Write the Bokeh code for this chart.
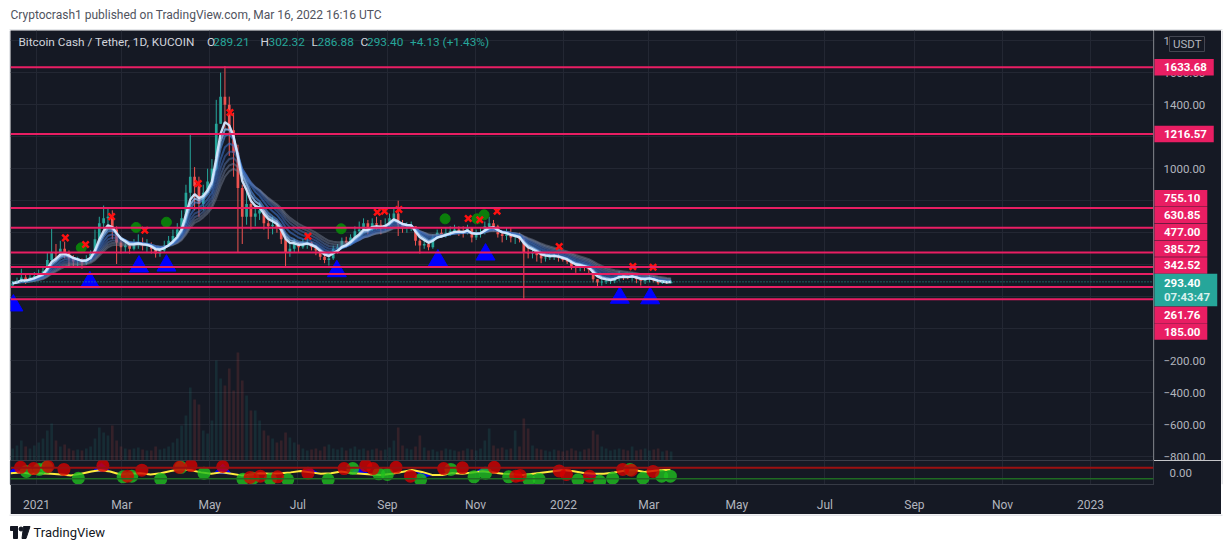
import numpy as np
import pandas as pd
from bokeh.plotting import figure
from bokeh.models import (Range1d, FixedTicker, MonthsTicker, CustomJSTickFormatter, Span, Label,
                          ColumnDataSource)
from bokeh.layouts import column, row
from bokeh.core.properties import value
from bokeh.embed import file_html
from bokeh.resources import INLINE

# ---------------- data ----------------
start_date = "2020-12-14"
period_days = 3
first_open = 270.0

closes = [285, 300, 320, 300, 320, 330, 345, 360, 430, 480,
          470, 500, 480, 440, 420, 420, 410, 430, 470, 560,
          660, 690, 700, 620, 540, 510, 520, 500, 530, 540,
          520, 520, 500, 470, 490, 520, 550, 580, 620, 690,
          850, 950, 890, 780, 850, 920, 1000, 1280, 1450, 1400,
          1240, 1100, 880, 700, 780, 700, 720, 740, 660, 640,
          650, 630, 560, 480, 500, 530, 510, 530, 540, 510,
          490, 450, 430, 440, 500, 510, 550, 540, 570, 610,
          620, 660, 620, 660, 650, 630, 650, 690, 720, 650,
          630, 640, 640, 550, 520, 530, 510, 570, 600, 590,
          600, 610, 620, 610, 600, 630, 570, 590, 600, 640,
          660, 640, 590, 580, 590, 570, 570, 560, 480, 470,
          480, 460, 440, 445, 450, 455, 445, 430, 420, 390,
          380, 390, 380, 370, 310, 290, 295, 300, 300, 320,
          340, 330, 320, 335, 310, 300, 310, 320, 300, 285,
          290, 285, 293.40]

highs = [300, 320, 375, 340, 345, 355, 370, 390, 480, 625,
         530, 550, 545, 490, 460, 450, 440, 460, 490, 620,
         700, 770, 750, 740, 640, 560, 560, 540, 560, 590,
         570, 560, 540, 520, 510, 550, 580, 620, 660, 740,
         900, 1210, 1010, 950, 900, 1000, 1060, 1430, 1600, 1640,
         1450, 1350, 1150, 900, 880, 800, 770, 790, 730, 680,
         700, 680, 640, 570, 540, 560, 540, 560, 570, 545,
         525, 500, 460, 455, 520, 530, 570, 575, 590, 640,
         670, 690, 680, 690, 700, 680, 690, 720, 760, 800,
         680, 665, 670, 640, 560, 560, 545, 590, 620, 625,
         630, 640, 650, 640, 640, 650, 610, 620, 630, 670,
         700, 680, 650, 600, 630, 635, 590, 600, 580, 510,
         500, 490, 470, 460, 475, 470, 470, 450, 445, 430,
         400, 410, 400, 390, 375, 310, 310, 310, 310, 325,
         360, 345, 340, 350, 335, 310, 320, 340, 330, 305,
         305, 300, 302.32]

lows = [270, 285, 295, 280, 295, 305, 315, 320, 350, 420,
        420, 450, 440, 390, 380, 390, 375, 400, 420, 460,
        550, 620, 630, 560, 405, 470, 480, 470, 490, 500,
        490, 480, 470, 445, 450, 480, 510, 540, 570, 610,
        660, 780, 740, 700, 740, 860, 900, 990, 1300, 1250,
        1080, 950, 480, 530, 650, 620, 640, 680, 620, 560,
        590, 600, 530, 385, 450, 480, 480, 500, 500, 490,
        460, 430, 410, 395, 430, 470, 500, 510, 520, 560,
        590, 610, 590, 610, 620, 590, 615, 640, 680, 580,
        600, 600, 610, 520, 470, 500, 490, 500, 560, 570,
        570, 580, 590, 580, 570, 590, 540, 555, 570, 590,
        620, 610, 570, 540, 555, 540, 530, 540, 188, 440,
        440, 420, 410, 420, 430, 430, 420, 420, 405, 370,
        350, 360, 360, 340, 290, 265, 270, 280, 280, 285,
        300, 305, 310, 300, 285, 270, 280, 290, 290, 275,
        280, 280, 286.88]

volumes = [12, 15, 20, 14, 12, 15,
           18, 22, 30, 37, 20,
           14, 16, 12, 10, 11, 10, 12, 14, 22,
           33, 28, 25, 35, 20,
           14, 12, 11, 12, 13, 11, 10, 10, 14, 11, 12,
           14, 18, 22, 35,
           45, 73, 61, 56, 30, 27,
           40, 100, 82, 75, 92, 70, 108,
           80, 65, 50, 50, 40,
           30, 25, 22, 18, 20,
           28, 23, 18, 16,
           12, 10, 11, 12, 10, 14, 16, 12, 11, 13, 10, 12, 14, 11, 12, 10, 11, 12, 10, 11, 13,
           20, 33, 15, 12, 11, 14, 25, 13,
           10, 11, 9, 10, 12, 11, 10, 9, 10, 12, 11, 10, 12,
           20, 32, 15, 12, 13, 11, 12, 30, 14,
           42, 32, 15, 12,
           11, 10, 9, 11, 10, 9, 10, 12, 10, 9, 11, 12,
           30, 26, 14, 12,
           10, 11, 12, 11, 10, 14, 10, 11, 12, 10, 11, 12, 9, 10, 9]

level_prices = [1633.68, 1216.57, 755.10, 630.85, 477.00, 385.72, 342.52, 261.76, 185.00]
last_open, last_high, last_low, last_close = 289.21, 302.32, 286.88, 293.40
last_change, last_change_pct = 4.13, 1.43
countdown = "07:43:47"
symbol_title = "Bitcoin Cash / Tether, 1D, KUCOIN"
quote_currency = "USDT"
publisher_line = "Cryptocrash1 published on TradingView.com, Mar 16, 2022 16:16 UTC"
brand = "TradingView"

tri_dates = ["2020-12-16", "2021-02-07", "2021-03-13", "2021-04-01", "2021-07-28",
             "2021-10-06", "2021-11-08", "2022-02-09", "2022-03-02"]
tri_prices = [146, 291, 389, 395, 360, 427, 464, 194, 191]

cross_dates = ["2021-01-21", "2021-02-04", "2021-02-22", "2021-03-17", "2021-04-23", "2021-05-15",
               "2021-07-08", "2021-08-25", "2021-08-30", "2021-09-09", "2021-10-27", "2021-11-04",
               "2021-11-16", "2021-12-29", "2022-02-18", "2022-03-04"]
cross_prices = [568, 527, 701, 616, 907, 1351, 578, 728, 735, 745, 689, 681, 735, 514, 389, 385]

dot_dates = ["2021-02-01", "2021-03-11", "2021-04-01", "2021-07-31", "2021-10-11", "2021-11-02", "2021-11-07"]
dot_prices = [506, 633, 666, 625, 687, 687, 712]

osc_red_dates = ["2020-12-21", "2020-12-30", "2021-01-09", "2021-01-20", "2021-02-16", "2021-03-05",
                 "2021-03-15", "2021-04-10", "2021-04-18", "2021-05-10", "2021-05-29", "2021-06-05",
                 "2021-06-17", "2021-07-08", "2021-08-02", "2021-08-17", "2021-08-22", "2021-09-07",
                 "2021-09-17", "2021-10-10", "2021-10-23", "2021-11-14", "2021-11-29", "2021-12-02",
                 "2021-12-29", "2022-01-03", "2022-01-19", "2022-02-11", "2022-02-17", "2022-03-04"]
osc_red_vals = [0.43, 0.33, 0.50, 0.26, 0.58, -0.31, 0.19, 0.43, 0.58, 0.50,
                -0.41, -0.31, -0.36, -0.06, 0.33, 0.58, 0.33, 0.43, -0.31, 0.33,
                0.39, 0.43, -0.31, -0.24, 0.13, -0.16, -0.31, 0.26, 0.19, 0.09]

osc_green_dates = ["2020-12-25", "2021-01-03", "2021-01-08", "2021-01-30", "2021-03-02", "2021-03-08",
                   "2021-03-28", "2021-04-11", "2021-04-27", "2021-05-24", "2021-05-31", "2021-06-12",
                   "2021-06-24", "2021-07-22", "2021-08-08", "2021-08-26", "2021-09-01", "2021-09-24",
                   "2021-10-15", "2021-10-31", "2021-11-08", "2021-11-24", "2021-12-08", "2021-12-15",
                   "2022-01-11", "2022-01-26", "2022-02-04", "2022-02-16", "2022-02-25", "2022-03-10",
                   "2022-03-16"]
osc_green_vals = [0.09, 0.26, 0.43, -0.48, -0.36, -0.31, -0.56, 0.43, -0.06, -0.56,
                  -0.48, -0.56, -0.61, -0.61, 0.33, -0.11, -0.16, -0.61, 0.26, -0.36,
                  -0.06, -0.36, -0.61, -0.56, -0.61, -0.73, -0.48, 0.26, -0.48, -0.31, -0.31]

osc_yellow_dates = ["2020-12-14", "2020-12-21", "2020-12-28", "2021-01-04", "2021-01-11", "2021-01-18",
                    "2021-01-25", "2021-02-01", "2021-02-08", "2021-02-14", "2021-02-21", "2021-02-28",
                    "2021-03-07", "2021-03-14", "2021-03-21", "2021-03-28", "2021-04-04", "2021-04-11",
                    "2021-04-18", "2021-04-25", "2021-05-02", "2021-05-09", "2021-05-16", "2021-05-23",
                    "2021-05-30", "2021-06-05", "2021-06-12", "2021-06-19", "2021-06-26", "2021-07-03",
                    "2021-07-10", "2021-07-17", "2021-07-24", "2021-07-31",
                    "2021-08-07", "2021-08-14", "2021-08-21", "2021-08-28", "2021-09-04", "2021-09-11",
                    "2021-09-18", "2021-09-25", "2021-10-02", "2021-10-09", "2021-10-16", "2021-10-23",
                    "2021-10-30", "2021-11-06", "2021-11-13", "2021-11-20", "2021-11-27", "2021-12-04",
                    "2021-12-11", "2021-12-18", "2021-12-25", "2022-01-01", "2022-01-08", "2022-01-15",
                    "2022-01-22", "2022-01-29", "2022-02-05", "2022-02-12", "2022-02-19", "2022-02-26",
                    "2022-03-05", "2022-03-12", "2022-03-16"]
osc_yellow_vals = [-0.06, 0.01, -0.11, -0.06, -0.11, -0.16, -0.24, -0.11, 0.09, 0.19,
                   0.09, -0.16, -0.11, -0.06, -0.16, -0.06, 0.13, 0.26, 0.19, 0.01,
                   -0.11, 0.01, -0.11, -0.24, -0.16, -0.06, -0.11, -0.06, 0.01, 0.13,
                   0.01, -0.11, -0.06, 0.09,
                   -0.04, -0.1, -0.16, -0.2, -0.1, 0.05, 0.2, 0.05, -0.2, -0.2,
                   -0.05, -0.1, 0.0, 0.1, 0.0, -0.1, -0.15, -0.2, -0.1, 0.0,
                   0.1, 0.2, 0.1, -0.05, -0.1, -0.1, 0.0, 0.15, 0.2, 0.05,
                   0.15, 0.2, 0.22]

osc_blue_dates = ["2020-12-17", "2021-02-15", "2021-04-12", "2021-05-10", "2021-07-10",
                  "2021-08-13", "2021-09-26", "2021-11-07", "2021-12-30", "2022-01-20"]
osc_blue_vals = [0.35, 0.78, 0.6, 0.7, 0.3, 0.5, -0.4, 0.45, 0.35, -0.4]
osc_upper_level = 0.40
osc_lower_level = -0.53

price_ticks = list(range(-800, 1801, 200))

# ---------------- style / layout ----------------
BG = "#151924"
GRID = "#232733"
SEP = "#363a45"
TXT = "#b2b5be"
LEG = "#d1d4dc"
UP = "#26a69a"
DN = "#ef5350"
PINK = "#e91e63"
EDGE = "#c9ccd3"
FONT = "Roboto"

PAD = 10
FRAME_W = 1143
AXIS_W = 68
FRAME_H = 430
HDR_H = 30
FTR_H = 36
Y0, Y1 = -822.0, 1863.0
ppu = FRAME_H / (Y1 - Y0)

def frame_px(price):
    return (Y1 - price) * ppu

def price_at(px):
    return Y1 - px / ppu

def fmt_price(v):
    return ("\u2212" if v < 0 else "") + f"{abs(v):.2f}"

def text_w(s, size):
    w = 0.0
    for ch in s:
        w += 0.5618 if ch.isdigit() else (0.26 if ch in ".:" else 0.6)
    return w * size

x_start = pd.Timestamp("2020-12-14")
x_end = pd.Timestamp("2023-02-13 14:00")
x_start_ms = x_start.value / 1e6
x_end_ms = x_end.value / 1e6
xr = Range1d(start=x_start, end=x_end)
yr = Range1d(Y0, Y1)
ms_per_px = (x_end_ms - x_start_ms) / FRAME_W

# candles
n = len(closes)
dates = pd.date_range(start_date, periods=n, freq=f"{period_days}D") + pd.Timedelta(hours=36)
opens = [first_open] + closes[:-1]
hi = [max(h, o, c) for h, o, c in zip(highs, opens, closes)]
lo = [min(l, o, c) for l, o, c in zip(lows, opens, closes)]
ccol = [UP if c >= o else DN for o, c in zip(opens, closes)]
src = ColumnDataSource(dict(x=dates, c=closes, h=hi, l=lo, col=ccol, v=volumes,
                            top=[max(o, c) for o, c in zip(opens, closes)],
                            bot=[min(o, c) for o, c in zip(opens, closes)]))
bar_w = period_days * 0.62 * 86400000

tick_fmt = CustomJSTickFormatter(code="""
    return (tick < 0 ? '\u2212' : '') + Math.abs(tick).toFixed(2);
""")
month_fmt = CustomJSTickFormatter(code="""
    const d = new Date(tick);
    const m = d.getUTCMonth();
    if (m == 0) { return String(d.getUTCFullYear()); }
    return ['Jan','Feb','Mar','Apr','May','Jun','Jul','Aug','Sep','Oct','Nov','Dec'][m];
""")

def plain_fig(w, h, xrange, yrange, bg):
    f = figure(width=w, height=h, x_range=xrange, y_range=yrange, x_axis_location=None,
               y_axis_location=None, output_backend="svg", toolbar_location=None, min_border=0,
               outline_line_color=None, background_fill_color=bg, border_fill_color=bg)
    f.grid.visible = False
    return f

# ---------------- price pane ----------------
p = figure(width=FRAME_W, height=FRAME_H, x_axis_type="datetime", x_range=xr, y_range=yr,
           x_axis_location=None, y_axis_location=None,
           output_backend="svg", toolbar_location=None, min_border=0,
           background_fill_color=BG, border_fill_color=BG, outline_line_color=None)
p.xgrid.ticker = MonthsTicker(months=[0, 2, 4, 6, 8, 10])
p.ygrid.ticker = FixedTicker(ticks=price_ticks)
p.xgrid.visible = True
p.ygrid.visible = True
p.grid.grid_line_color = GRID

# volume overlay
p.extra_y_ranges = {"vol": Range1d(0, FRAME_H)}
p.vbar(x="x", width=bar_w, top="v", bottom=0, source=src, y_range_name="vol",
       fill_color="col", line_color=None, fill_alpha=0.14)

# horizontal levels
for lv in level_prices:
    p.add_layout(Span(location=lv, dimension="width", line_color=PINK, line_width=2))
p.add_layout(Span(location=last_close, dimension="width", line_color=UP, line_width=1, line_dash="1 2"))

# candles
p.segment(x0="x", x1="x", y0="l", y1="h", source=src, line_color="col", line_width=1)
p.vbar(x="x", width=bar_w, top="top", bottom="bot", source=src, fill_color="col", line_color=None)

# EMA ribbon (slowest first, fastest last / brightest)
cl = pd.Series(closes, dtype=float)
ribbon_spans = [16, 14, 12, 10, 8, 6, 5, 4]
ribbon_cols = ["#7f8aa0", "#7586a6", "#5a78b0", "#3f68b5", "#3a70c6", "#4f8ad8", "#8dbbf0", "#d4e8ff"]
ribbon_alpha = [0.45, 0.45, 0.5, 0.55, 0.6, 0.65, 0.8, 0.95]
ribbon_w = [2, 2, 2, 2, 2, 2, 2, 2.4]
for sp, colr, a, lw in zip(ribbon_spans, ribbon_cols, ribbon_alpha, ribbon_w):
    p.line(dates, cl.ewm(span=sp, adjust=False).mean(), line_color=colr, line_width=lw, line_alpha=a)

# signal markers
p.scatter(pd.to_datetime(tri_dates), tri_prices, marker="triangle", size=19, fill_color="#0000ff", line_color="#0000ff")
p.scatter(pd.to_datetime(dot_dates), dot_prices, marker="circle", size=10, fill_color="#0b7d0b", line_color="#0b7d0b")
p.scatter(pd.to_datetime(cross_dates), cross_prices, marker="x", size=9, line_color="#ff1010", line_width=2.5)

# legend (top-left)
leg_y = price_at(11)
leg_items = [(8, symbol_title, LEG), (196.5, "O", LEG), (202.8, f"{last_open:.2f}", UP),
             (250, "H", LEG), (258, f"{last_high:.2f}", UP), (301, "L", LEG), (307, f"{last_low:.2f}", UP),
             (350, "C", LEG), (356.6, f"{last_close:.2f}", UP),
             (399.5, f"+{last_change:.2f} (+{last_change_pct:.2f}%)", UP)]
for dx, t, colr in leg_items:
    p.add_layout(Label(x=x_start_ms + dx * ms_per_px, y=leg_y, text=t, text_color=colr, text_font=FONT,
                       text_font_size="11.8px", text_baseline="middle", text_align="left"))

# ---------------- price scale (right) ----------------
pa = plain_fig(AXIS_W, FRAME_H, Range1d(0, AXIS_W), yr, BG)
pa.add_layout(Span(location=0.5, dimension="height", line_color=SEP, line_width=1))
pa.text(x=[10] * len(price_ticks), y=price_ticks, text=[fmt_price(t) for t in price_ticks],
        text_font=value(FONT), text_font_size="11.5px", text_color=TXT,
        text_baseline="middle", text_align="left")

# stacked price labels (TradingView style collision avoidance around current price)
LH = 16.8
cur_px = frame_px(last_close)
cur_top, cur_bot = cur_px - 8.0, cur_px + 24.5
pos = {}
prev = cur_top
for lv in sorted([l for l in level_prices if l > last_close]):
    y = min(frame_px(lv), prev - LH / 2)
    pos[lv] = y
    prev = y - LH / 2
prev = cur_bot
for lv in sorted([l for l in level_prices if l < last_close], reverse=True):
    y = max(frame_px(lv), prev + LH / 2)
    pos[lv] = y
    prev = y + LH / 2

lab_txt = [f"{lv:.2f}" for lv in level_prices]
lab_y = [price_at(pos[lv]) for lv in level_prices]
pa.quad(left=[0] * len(level_prices), right=[text_w(t, 11.5) + 18.5 for t in lab_txt],
        top=[price_at(pos[lv] - 8.2) for lv in level_prices],
        bottom=[price_at(pos[lv] + 8.2) for lv in level_prices],
        fill_color=PINK, line_color=None)
pa.text(x=[10.5] * len(level_prices), y=lab_y, text=lab_txt, text_font=value(FONT),
        text_font_size="11.5px", text_font_style="bold", text_color="white",
        text_baseline="middle", text_align="left")

# current price + countdown
pa.quad(left=[0], right=[text_w(countdown, 11.5) + 19], top=[price_at(cur_top)], bottom=[price_at(cur_bot)],
        fill_color=UP, line_color=None)
pa.text(x=[10.5], y=[price_at(cur_px + 1.4)], text=[f"{last_close:.2f}"], text_font=value(FONT),
        text_font_size="11.5px", text_font_style="bold", text_color="white",
        text_baseline="middle", text_align="left")
pa.text(x=[10.5], y=[price_at(cur_px + 15.4)], text=[countdown], text_font=value(FONT),
        text_font_size="11.5px", text_font_style="bold", text_color="#d9f1ee",
        text_baseline="middle", text_align="left")

# currency badge
pa.quad(left=[16], right=[51], top=[price_at(6)], bottom=[price_at(21)],
        fill_color=BG, line_color="#434651", line_width=1)
pa.text(x=[19.5], y=[price_at(13.5)], text=[quote_currency], text_font=value(FONT),
        text_font_size="11.5px", text_color=TXT, text_baseline="middle", text_align="left")

# ---------------- oscillator pane ----------------
p2 = figure(width=FRAME_W + AXIS_W, height=27 + 27, x_axis_type="datetime", x_range=xr,
            y_range=Range1d(-1.0, 1.0), y_axis_location="right",
            output_backend="svg", toolbar_location=None,
            min_border_left=0, min_border_right=AXIS_W, min_border_top=0, min_border_bottom=27,
            background_fill_color=BG, border_fill_color=BG, outline_line_color=SEP)
p2.xgrid.ticker = MonthsTicker(months=[0, 2, 4, 6, 8, 10])
p2.xgrid.grid_line_color = GRID
p2.ygrid.visible = False
p2.xaxis.ticker = MonthsTicker(months=[0, 2, 4, 6, 8, 10])
p2.xaxis.formatter = month_fmt
p2.xaxis.major_tick_line_color = None
p2.xaxis.minor_tick_line_color = None
p2.xaxis.axis_line_color = SEP
p2.xaxis.major_label_text_color = TXT
p2.xaxis.major_label_text_font = FONT
p2.xaxis.major_label_text_font_size = "12px"
p2.xaxis.major_label_standoff = 7
p2.yaxis.ticker = FixedTicker(ticks=[0])
p2.yaxis.formatter = tick_fmt
p2.yaxis.major_tick_line_color = None
p2.yaxis.minor_tick_line_color = None
p2.yaxis.axis_line_color = SEP
p2.yaxis.major_label_text_color = TXT
p2.yaxis.major_label_text_font = FONT
p2.yaxis.major_label_text_font_size = "11.5px"
p2.yaxis.major_label_standoff = 10

yd = pd.to_datetime(osc_yellow_dates)
yd_ms = yd.values.astype("datetime64[ms]").astype(np.int64).astype(float)
bd = pd.to_datetime(osc_blue_dates)
half = pd.Timedelta(days=6)
xs, ys = [], []
for d, v in zip(bd, osc_blue_vals):
    pm = [(d - half).value / 1e6, d.value / 1e6, (d + half).value / 1e6]
    base = np.interp(pm, yd_ms, osc_yellow_vals)
    xs.append(pm)
    ys.append([base[0], v, base[2]])
p2.patches(xs, ys, fill_color="#0000ff", line_color="#0000ff", fill_alpha=0.95)
p2.add_layout(Span(location=osc_upper_level, dimension="width", line_color="#9b1010", line_width=2))
p2.add_layout(Span(location=osc_lower_level, dimension="width", line_color="#1f6b22", line_width=1.5))
p2.line(yd, osc_yellow_vals, line_color="#ffeb3b", line_width=2)
p2.scatter(pd.to_datetime(osc_green_dates), osc_green_vals, size=13, fill_color="#1fbf1f",
           line_color=None, fill_alpha=0.8)
p2.scatter(pd.to_datetime(osc_red_dates), osc_red_vals, size=13, fill_color="#d40000",
           line_color=None, fill_alpha=0.8)

# ---------------- header / footer / edges ----------------
W = PAD + FRAME_W + AXIS_W + PAD
hdr = plain_fig(W, HDR_H, Range1d(0, W), Range1d(0, HDR_H), "white")
hdr.text(x=[PAD], y=[HDR_H - 14], text=[publisher_line], text_font=value(FONT), text_font_size="12px",
         text_color="#50535e", text_baseline="middle", text_align="left")
hdr.segment(x0=[PAD - 1], x1=[W - PAD + 1], y0=[0.5], y1=[0.5], line_color=EDGE, line_width=1)

ftr = plain_fig(W, FTR_H, Range1d(0, W), Range1d(0, FTR_H), "white")
ftr.segment(x0=[PAD - 1], x1=[W - PAD + 1], y0=[FTR_H - 0.5], y1=[FTR_H - 0.5], line_color=EDGE, line_width=1)
ftr.quad(left=[PAD], right=[PAD + 7], top=[FTR_H - 12], bottom=[FTR_H - 16], color="#131722")
ftr.quad(left=[PAD + 3], right=[PAD + 7], top=[FTR_H - 12], bottom=[FTR_H - 24], color="#131722")
ftr.scatter(x=[PAD + 10.5], y=[FTR_H - 14.5], size=4, color="#131722")
ftr.patch(x=[PAD + 13, PAD + 19.5, PAD + 15.5, PAD + 11.5],
          y=[FTR_H - 12, FTR_H - 12, FTR_H - 24, FTR_H - 24], color="#131722")
ftr.text(x=[PAD + 23], y=[FTR_H - 18], text=[brand], text_font=value(FONT), text_font_size="13px",
         text_color="#131722", text_baseline="middle", text_align="left")

def edge(h, line_x):
    f = plain_fig(PAD, h, Range1d(0, PAD), Range1d(0, h), "white")
    f.segment(x0=[line_x], x1=[line_x], y0=[0], y1=[h], line_color=EDGE, line_width=1)
    return f

layout = column(hdr,
                row(edge(FRAME_H, PAD - 0.5), p, pa, edge(FRAME_H, 0.5)),
                row(edge(54, PAD - 0.5), p2, edge(54, 0.5)),
                ftr)
open("out.html", "w").write(file_html(layout, INLINE))
